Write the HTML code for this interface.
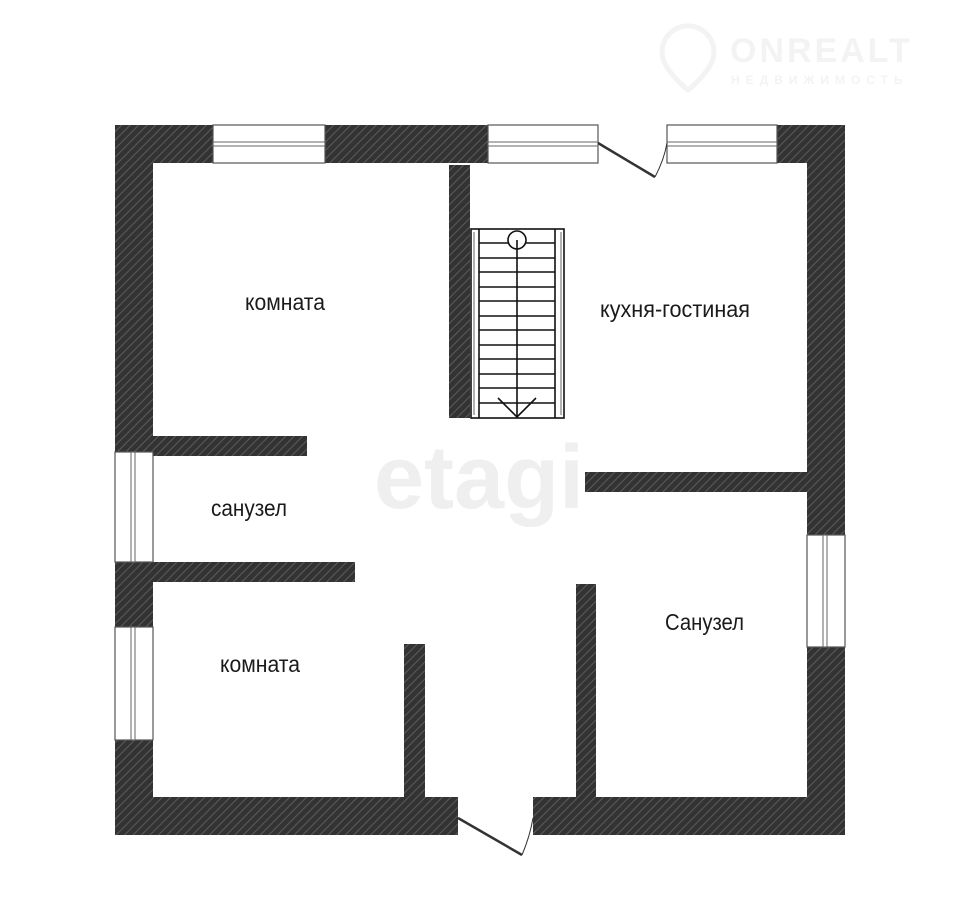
<!DOCTYPE html>
<html><head><meta charset="utf-8"><style>
html,body{margin:0;padding:0;background:#fff;}
svg{display:block;}
.lbl{font-family:"Liberation Sans Narrow","Liberation Sans",sans-serif;font-size:23px;fill:#1a1a1a;}
</style></head><body>
<svg width="960" height="910" viewBox="0 0 960 910" xmlns="http://www.w3.org/2000/svg">
<defs>
<pattern id="h" width="6" height="6" patternUnits="userSpaceOnUse" patternTransform="rotate(45)">
<rect width="6" height="6" fill="#333"/>
<rect x="0" y="0" width="1" height="6" fill="#5c5c5c"/>
</pattern>
</defs>
<text x="374" y="508" font-family="Liberation Sans" font-weight="bold" font-size="90" fill="#efefef">etagi</text>
<g fill="#f3f3f3" stroke="none">
<path d="M688 26 a26 26 0 0 1 26 26 c0 18 -26 38 -26 38 c0 0 -26 -20 -26 -38 a26 26 0 0 1 26 -26z" fill="none" stroke="#f3f3f3" stroke-width="5"/>
<text x="730" y="62" font-family="Liberation Sans" font-weight="bold" font-size="34" letter-spacing="3">ONREALT</text>
<text x="731" y="84" font-family="Liberation Sans" font-weight="bold" font-size="12" letter-spacing="6">НЕДВИЖИМОСТЬ</text>
</g>
<g fill="url(#h)">
<rect x="115" y="125" width="98" height="38"/>
<rect x="325" y="125" width="163" height="38"/>
<rect x="777" y="125" width="68" height="38"/>
<rect x="115" y="125" width="38" height="327"/>
<rect x="115" y="562" width="38" height="65"/>
<rect x="115" y="740" width="38" height="95"/>
<rect x="807" y="125" width="38" height="410"/>
<rect x="807" y="647" width="38" height="188"/>
<rect x="115" y="797" width="343" height="38"/>
<rect x="533" y="797" width="312" height="38"/>
<rect x="449" y="165" width="21" height="253"/>
<rect x="153" y="436" width="154" height="20"/>
<rect x="153" y="562" width="202" height="20"/>
<rect x="585" y="472" width="222" height="20"/>
<rect x="404" y="644" width="21" height="153"/>
<rect x="576" y="584" width="20" height="213"/>
</g>
<g fill="#fff" stroke="#555" stroke-width="1.2">
<rect x="213" y="125" width="112" height="38"/>
<rect x="488" y="125" width="110" height="38"/>
<rect x="667" y="125" width="110" height="38"/>
<rect x="115" y="452" width="38" height="110"/>
<rect x="115" y="627" width="38" height="113"/>
<rect x="807" y="535" width="38" height="112"/>
</g>
<g stroke="#666" stroke-width="1" fill="none">
<rect x="213" y="142" width="112" height="4"/>
<rect x="488" y="142" width="110" height="4"/>
<rect x="667" y="142" width="110" height="4"/>
<rect x="131" y="452" width="4" height="110"/>
<rect x="131" y="627" width="4" height="113"/>
<rect x="823" y="535" width="4" height="112"/>
</g>
<g stroke="#333" fill="none">
<line x1="598" y1="143" x2="655" y2="177" stroke-width="2.5"/>
<path d="M655 177 Q664 160 667 143" stroke-width="1"/>
<line x1="458" y1="818" x2="522" y2="855" stroke-width="2.5"/>
<path d="M522 855 Q530 836 533 818" stroke-width="1"/>
</g>
<g stroke="#111" fill="none" stroke-width="1.6">
<rect x="471" y="229" width="93" height="189"/>
<line x1="479" y1="229" x2="479" y2="418"/>
<line x1="555" y1="229" x2="555" y2="418"/>
<line x1="474" y1="232" x2="474" y2="415" stroke-width="1" stroke="#666"/>
<line x1="561" y1="232" x2="561" y2="415" stroke-width="1" stroke="#666"/>
<line x1="479" y1="243" x2="555" y2="243"/>
<line x1="479" y1="258" x2="555" y2="258"/>
<line x1="479" y1="272" x2="555" y2="272"/>
<line x1="479" y1="287" x2="555" y2="287"/>
<line x1="479" y1="301" x2="555" y2="301"/>
<line x1="479" y1="316" x2="555" y2="316"/>
<line x1="479" y1="330" x2="555" y2="330"/>
<line x1="479" y1="345" x2="555" y2="345"/>
<line x1="479" y1="359" x2="555" y2="359"/>
<line x1="479" y1="374" x2="555" y2="374"/>
<line x1="479" y1="388" x2="555" y2="388"/>
<line x1="479" y1="403" x2="555" y2="403"/>
<circle cx="517" cy="240" r="9" fill="#fff"/>
<line x1="517" y1="240" x2="517" y2="417"/>
<polyline points="498,398 517,417 536,398"/>
</g>
<text class="lbl" x="245" y="310" textLength="80" lengthAdjust="spacingAndGlyphs">комната</text>
<text class="lbl" x="600" y="317" textLength="150" lengthAdjust="spacingAndGlyphs">кухня-гостиная</text>
<text class="lbl" x="211" y="516" textLength="76" lengthAdjust="spacingAndGlyphs">санузел</text>
<text class="lbl" x="220" y="672" textLength="80" lengthAdjust="spacingAndGlyphs">комната</text>
<text class="lbl" x="665" y="630" textLength="79" lengthAdjust="spacingAndGlyphs">Санузел</text>
</svg>
</body></html>
